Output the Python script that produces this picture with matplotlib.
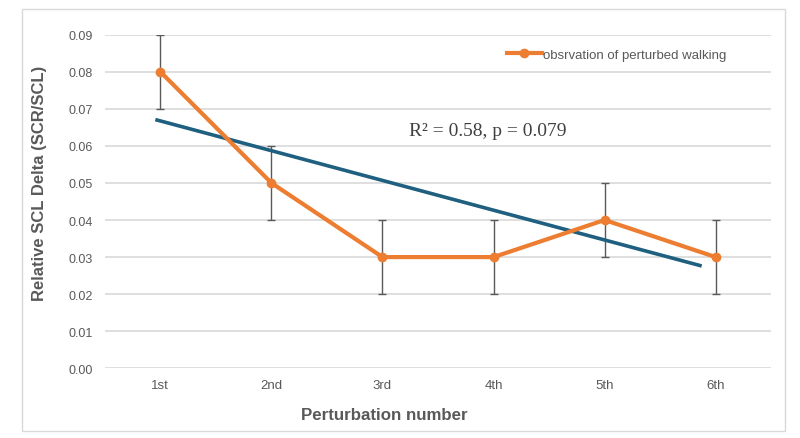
import matplotlib
matplotlib.use("Agg")
import matplotlib.pyplot as plt
from matplotlib.patches import Rectangle

categories = ["1st", "2nd", "3rd", "4th", "5th", "6th"]
values = [0.08, 0.05, 0.03, 0.03, 0.04, 0.03]
errors = [0.01, 0.01, 0.01, 0.01, 0.01, 0.01]
# trend line as drawn in the original (start / end)
trend_x = [0.955, 5.874]
trend_y = [0.0671, 0.0276]
y_ticks = [0.00, 0.01, 0.02, 0.03, 0.04, 0.05, 0.06, 0.07, 0.08, 0.09]

orange = "#ED7D31"
blue = "#1F5F7F"
grey_text = "#595959"
sans = ["Liberation Sans", "DejaVu Sans"]

fig = plt.figure(figsize=(8, 4.39), dpi=100)
fig.patches.append(Rectangle((22 / 800, 1 - 432 / 439), 763 / 800, 422 / 439,
                             transform=fig.transFigure, fill=False,
                             edgecolor="#D9D9D9", linewidth=1.0))
ax = fig.add_axes([0.131, 0.1588, 0.833, 0.7599])

x = list(range(1, len(categories) + 1))
ax.errorbar(x, values, yerr=errors, fmt="none", ecolor=grey_text,
            elinewidth=1.0, capsize=3, capthick=1.0, zorder=2)
ax.plot(trend_x, trend_y, color=blue, linewidth=2.6, solid_capstyle="butt", zorder=3)
ax.plot(x, values, color=orange, linewidth=3.0, marker="o", markersize=6,
        label="obsrvation of perturbed walking", zorder=4)

ax.set_xlim(0.5, 6.5)
ax.set_ylim(0, 0.09)
ax.set_yticks(y_ticks)
ax.set_yticklabels([f"{t:.2f}" for t in y_ticks], family=sans, fontsize=9, color=grey_text)
ax.set_xticks(x)
ax.set_xticklabels(categories, family=sans, fontsize=9.5, color=grey_text)
ax.tick_params(length=0)
ax.tick_params(axis="x", pad=8)
ax.tick_params(axis="y", pad=8.6)
ax.grid(axis="y", color="#D9D9D9", linewidth=1.2)
ax.set_axisbelow(True)
for s in ax.spines.values():
    s.set_visible(False)

fig.text(40 / 800, 1 - 183 / 439, "Relative SCL Delta (SCR/SCL)", family=sans, fontsize=12,
         fontweight="bold", color=grey_text, ha="center", va="center", rotation=90)
fig.text(384 / 800, 1 - 415 / 439, "Perturbation number", family=sans, fontsize=12.2,
         fontweight="bold", color=grey_text, ha="center", va="center")

ax.text(3.95, 0.0641, "R² = 0.58, p = 0.079", family=["Liberation Serif", "DejaVu Serif"],
        fontsize=14, color="#404040", ha="center", va="center")

leg = ax.legend(loc="center left", bbox_to_anchor=(0.604, 0.94), frameon=False,
                prop={"family": sans, "size": 9.5}, handlelength=2.6, handletextpad=0.1,
                borderpad=0, borderaxespad=0, labelcolor=grey_text)

fig.savefig("out.png", dpi=100)
